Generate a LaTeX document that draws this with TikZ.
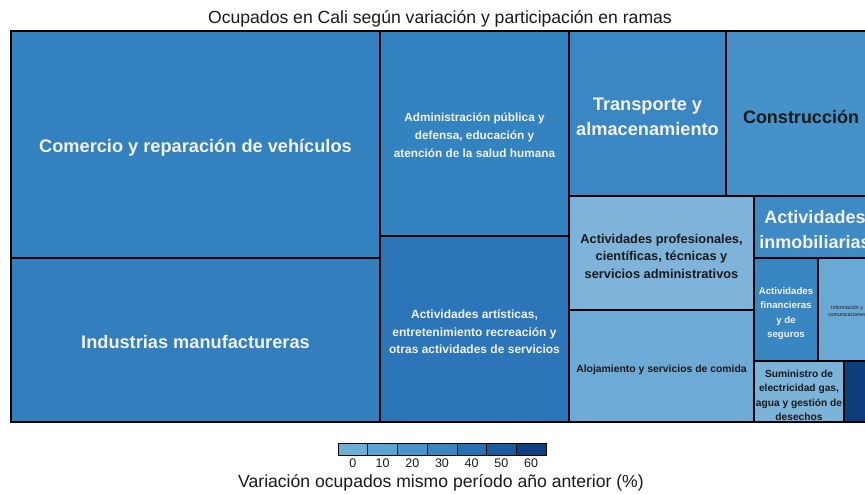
\documentclass[tikz,border=0pt]{standalone}
\usepackage{fontspec}
\setmainfont{Liberation Sans}
\definecolor{cCom}{HTML}{3481BF}
\definecolor{cInd}{HTML}{337FBE}
\definecolor{cAdm}{HTML}{3383C1}
\definecolor{cArt}{HTML}{2C75B8}
\definecolor{cTra}{HTML}{3A87C3}
\definecolor{cCon}{HTML}{4591C8}
\definecolor{cPro}{HTML}{7FB4DA}
\definecolor{cAlo}{HTML}{6EAAD6}
\definecolor{cInm}{HTML}{3E8AC5}
\definecolor{cFin}{HTML}{3886C2}
\definecolor{cInf}{HTML}{6AA9D5}
\definecolor{cSum}{HTML}{7CB3D9}
\definecolor{cDk}{HTML}{0C3D7C}
\definecolor{lg0}{HTML}{6BAED6}
\definecolor{lg1}{HTML}{5BA3D3}
\definecolor{lg2}{HTML}{4A94CA}
\definecolor{lg3}{HTML}{3A84C0}
\definecolor{lg4}{HTML}{2970B2}
\definecolor{lg5}{HTML}{1A5BA0}
\definecolor{lg6}{HTML}{0D3F82}
\definecolor{wtext}{HTML}{F2F2F2}
\definecolor{btext}{HTML}{1A1A1A}
\tikzset{
  cell/.style={draw=black, line width=1.6pt, anchor=north west, inner sep=0pt, outer sep=0pt},
  lbl/.style={inner sep=0pt, align=center},
  lt/.style={lbl, text=wtext},
  dt/.style={lbl, text=btext},
  legseg/.style={draw=black, line width=0.6pt, anchor=north west, inner sep=0pt, outer sep=0pt, minimum width=29.71pt, minimum height=12pt},
  legnum/.style={font=\fontsize{12.5}{14}\selectfont, text=btext, inner sep=0pt}
}
\newcommand{\fsz}[2]{\fontsize{#1}{#2}\selectfont\bfseries}
\begin{document}
\begin{tikzpicture}[x=1pt,y=-1pt]
\useasboundingbox (0,0) rectangle (865,493);
\fill[white] (0,0) rectangle (865,493);
\node[font=\fontsize{17.6}{20}\selectfont, text=btext] (title) at (440,19) {Ocupados en Cali según variación y participación en ramas};
\begin{scope}
\clip (0,0) rectangle (865,493);
\node[cell, fill=cCom, minimum width=369pt, minimum height=227pt] (com) at (11,31) {};
\node[cell, fill=cInd, minimum width=369pt, minimum height=164pt] (ind) at (11,258) {};
\node[cell, fill=cAdm, minimum width=189pt, minimum height=205pt] (adm) at (380,31) {};
\node[cell, fill=cArt, minimum width=189pt, minimum height=186pt] (art) at (380,236) {};
\node[cell, fill=cTra, minimum width=157pt, minimum height=165pt] (tra) at (569,31) {};
\node[cell, fill=cCon, minimum width=150pt, minimum height=165pt] (con) at (726,31) {};
\node[cell, fill=cPro, minimum width=185pt, minimum height=114pt] (pro) at (569,196) {};
\node[cell, fill=cAlo, minimum width=185pt, minimum height=112pt] (alo) at (569,310) {};
\node[cell, fill=cInm, minimum width=122pt, minimum height=62pt] (inm) at (754,196) {};
\node[cell, fill=cFin, minimum width=64pt, minimum height=103pt] (fin) at (754,258) {};
\node[cell, fill=cInf, minimum width=58pt, minimum height=103pt] (inf) at (818,258) {};
\node[cell, fill=cSum, minimum width=90pt, minimum height=61pt] (sum) at (754,361) {};
\node[cell, fill=cDk, minimum width=32pt, minimum height=61pt] (dk) at (844,361) {};
% labels
\node[lt, font=\fsz{18.2}{25}] (comt) at ([yshift=-3pt]com.center) {Comercio y reparación de vehículos};
\node[lt, font=\fsz{18.2}{25}] (indt) at ([yshift=-2pt]ind.center) {Industrias manufactureras};
\node[lt, font=\fsz{11.8}{18}] (admt) at ([yshift=-2pt]adm.center) {Administración pública y\\defensa, educación y\\atención de la salud humana};
\node[lt, font=\fsz{12}{17.5}] (artt) at ([yshift=-3pt]art.center) {Actividades artísticas,\\entretenimiento recreación y\\otras actividades de servicios};
\node[lt, font=\fsz{18.2}{25}] (trat) at ([yshift=-3pt]tra.center) {Transporte y\\almacenamiento};
\node[dt, font=\fsz{18}{24}] (cont) at ([yshift=-3pt]con.center) {Construcción};
\node[dt, font=\fsz{12.8}{17.5}] (prot) at ([yshift=-3pt]pro.center) {Actividades profesionales,\\científicas, técnicas y\\servicios administrativos};
\node[dt, font=\fsz{10.4}{14}] (alot) at ([yshift=-4pt]alo.center) {Alojamiento y servicios de comida};
\node[lt, font=\fsz{18}{25}] (inmt) at ([yshift=-3pt]inm.center) {Actividades\\inmobiliarias};
\node[lt, font=\fsz{9.7}{14.6}] (fint) at ([yshift=-4pt]fin.center) {Actividades\\financieras\\y de\\seguros};
\node[dt, font=\fontsize{5.3}{7}\selectfont] (inft) at ([yshift=-2pt]inf.center) {Información y\\comunicaciones};
\node[dt, font=\fsz{10.2}{14.5}] (sumt) at ([yshift=-4pt]sum.center) {Suministro de\\electricidad gas,\\agua y gestión de\\desechos};
\end{scope}
% legend
\node[legseg, fill=lg0] (l0) at (338,443) {};
\node[legseg, fill=lg1] (l1) at (l0.north east) {};
\node[legseg, fill=lg2] (l2) at (l1.north east) {};
\node[legseg, fill=lg3] (l3) at (l2.north east) {};
\node[legseg, fill=lg4] (l4) at (l3.north east) {};
\node[legseg, fill=lg5] (l5) at (l4.north east) {};
\node[legseg, fill=lg6] (l6) at (l5.north east) {};
\foreach \i/\v in {0/0,1/10,2/20,3/30,4/40,5/50,6/60}{
  \node[legnum, anchor=north] (n\i) at ([yshift=-4pt]l\i.south) {\v};
}
\node[font=\fontsize{17.6}{20}\selectfont, text=btext] (legtitle) at (441,483) {Variación ocupados mismo período año anterior (\%)};
\end{tikzpicture}
\end{document}
